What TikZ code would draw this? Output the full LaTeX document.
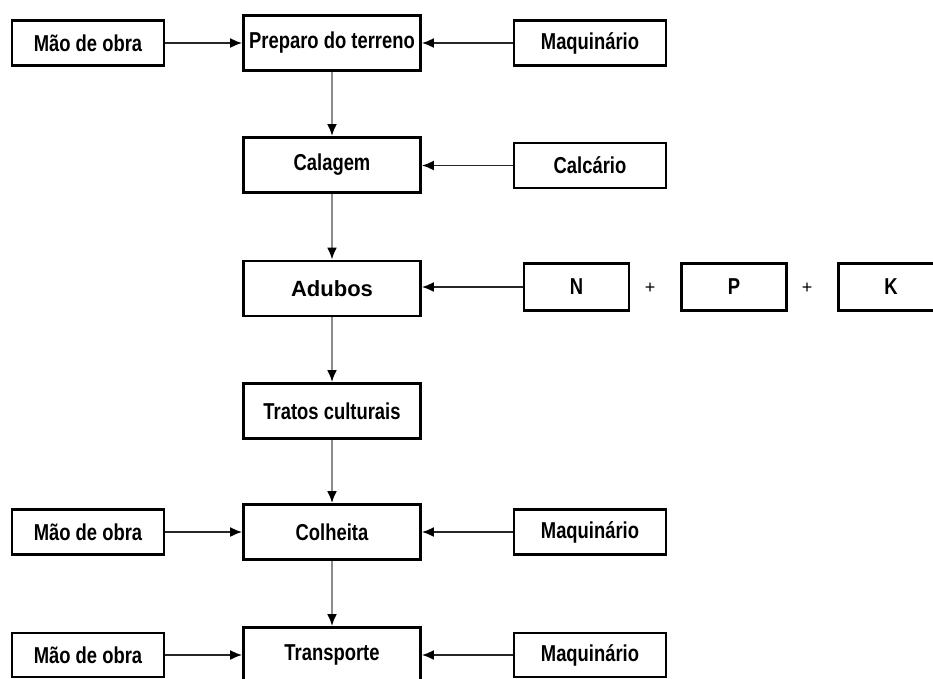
\documentclass[tikz,border=0pt]{standalone}
\usepackage{fontspec}
\usetikzlibrary{arrows.meta}
\newfontfamily\narrowsans[FakeStretch=0.8]{Liberation Sans}
\newfontfamily\widesans{Liberation Sans}
\begin{document}
\begin{tikzpicture}[x=1pt,y=-1pt,
	box/.style={draw,line width=2.8pt,rectangle,inner sep=0pt,font=\narrowsans\bfseries\fontsize{23}{27}\selectfont},
	side/.style={box,minimum width=152pt,minimum height=45pt},
	main/.style={box,minimum width=177pt,minimum height=55pt},
	flow/.style={line width=2.2pt,black!45,-{Latex[length=12pt,width=10pt,black]}},
	feed/.style={line width=1.8pt,black!85,-{Latex[length=12pt,width=10pt,black]}}]
		\useasboundingbox (0,0) rectangle (933,678);
		% cadeia principal
		\node[main] (preparo) at (332,43) {Preparo do terreno};
		\node[main] (calagem) at (332,165) {Calagem};
		\node[main,font=\widesans\bfseries\fontsize{22}{26}\selectfont] (adubos) at (332,288.5) {Adubos};
		\node[main] (tratos) at (332,411) {Tratos culturais};
		\node[main] (colheita) at (332,532) {Colheita};
		\node[main] (transporte) at (332,655) {Transporte};
		
		% entradas
		\node[side] (mao1) at (88,43) {Mão de obra};
		\node[side] (maq1) at (590,43) {Maquinário};
		\node[side] (calcario) at (590,165.5) {Calcário};
		\node[box,minimum width=105pt,minimum height=47pt] (N) at (576.5,287) {N};
		\node (mais1) at (650,288) {\widesans\fontsize{18}{20}\selectfont +};
		\node[box,minimum width=105pt,minimum height=47pt] (P) at (734,287) {P};
		\node (mais2) at (807,288) {\widesans\fontsize{18}{20}\selectfont +};
		\node[box,minimum width=105pt,minimum height=47pt] (K) at (891,287) {K};
		\node[side] (mao2) at (88,532) {Mão de obra};
		\node[side] (maq2) at (590,532) {Maquinário};
		\node[side,minimum height=44pt] (mao3) at (88,655) {Mão de obra};
		\node[side,minimum height=44pt] (maq3) at (590,655) {Maquinário};
		
		\draw[flow] (preparo) -- (calagem);
		\draw[flow] (calagem) -- (adubos);
		\draw[flow] (adubos) -- (tratos);
		\draw[flow] (tratos) -- (colheita);
		\draw[flow] (colheita) -- (transporte);
		
		\draw[feed] (mao1) -- (preparo);
		\draw[feed] (maq1) -- (preparo);
		\draw[feed] (calcario) -- (calagem.east |- calcario);
		\draw[feed] (N) -- (adubos.east |- N);
		\draw[feed] (mao2) -- (colheita);
		\draw[feed] (maq2) -- (colheita);
		\draw[feed] (mao3) -- (transporte);
		\draw[feed] (maq3) -- (transporte);
\end{tikzpicture}
\end{document}
